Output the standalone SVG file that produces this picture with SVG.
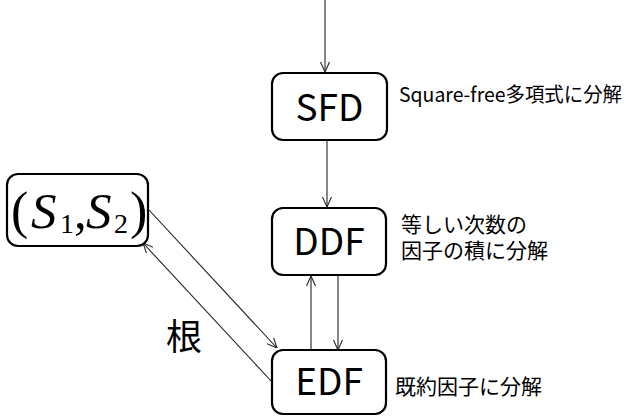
<svg xmlns="http://www.w3.org/2000/svg" width="632" height="417" viewBox="0 0 632 417">
<defs>
<style>
.box{fill:#fff;stroke:#000;stroke-width:2.2}
.lbl{font-family:"Noto Sans CJK JP","Noto Sans",sans-serif;fill:#000}
.big{font-size:37px;text-anchor:middle}
.note{font-size:21px}
.con{stroke:#222;stroke-width:1.1;fill:none}
.math{font-family:"Liberation Serif","Times New Roman",serif;fill:#000}
</style>
<marker id="ah" viewBox="0 0 10 10" refX="10" refY="5" markerWidth="10" markerHeight="10" markerUnits="userSpaceOnUse" orient="auto">
<path d="M0,0.5 L10,5 L0,9.5" fill="none" stroke="#222" stroke-width="1.1"/>
</marker>
</defs>
<g id="connectors">
<line class="con" x1="325" y1="0" x2="325" y2="72" marker-end="url(#ah)"/>
<line class="con" x1="327" y1="140" x2="327" y2="207" marker-end="url(#ah)"/>
<line class="con" x1="311" y1="350" x2="311" y2="276" marker-end="url(#ah)"/>
<line class="con" x1="338" y1="276" x2="338" y2="350" marker-end="url(#ah)"/>
<line class="con" x1="149" y1="210" x2="277" y2="348" marker-end="url(#ah)"/>
<line class="con" x1="272" y1="382" x2="143" y2="243" marker-end="url(#ah)"/>
</g>
<g id="root-label">
<text class="lbl" x="184" y="350" font-size="36" text-anchor="middle">根</text>
</g>
<g id="SFD">
<rect class="box" x="272" y="73" width="115" height="67" rx="11"/>
<text class="lbl big" x="329.5" y="121">SFD</text>
<text class="lbl" x="399" y="102" font-size="20" textLength="223" lengthAdjust="spacingAndGlyphs">Square-free多項式に分解</text>
</g>
<g id="DDF">
<rect class="box" x="272" y="208" width="114" height="67" rx="11"/>
<text class="lbl big" x="329" y="255">DDF</text>
<text class="lbl note"><tspan x="401" y="232">等しい次数の</tspan><tspan x="401" y="258">因子の積に分解</tspan></text>
</g>
<g id="EDF">
<rect class="box" x="272" y="350" width="114" height="64" rx="11"/>
<text class="lbl big" x="329" y="395">EDF</text>
<text class="lbl note" x="395" y="394">既約因子に分解</text>
</g>
<g id="S1S2">
<rect class="box" x="7" y="174" width="141" height="72" rx="11"/>
<text class="math" y="228" font-size="51"><tspan x="11" font-size="52">(</tspan><tspan x="31" font-style="italic">S</tspan><tspan x="60" y="233" font-size="28">1</tspan><tspan x="74" y="228">,</tspan><tspan x="86" font-style="italic">S</tspan><tspan x="114" y="233" font-size="28">2</tspan><tspan x="130" y="228" font-size="52">)</tspan></text>
</g>
</svg>
